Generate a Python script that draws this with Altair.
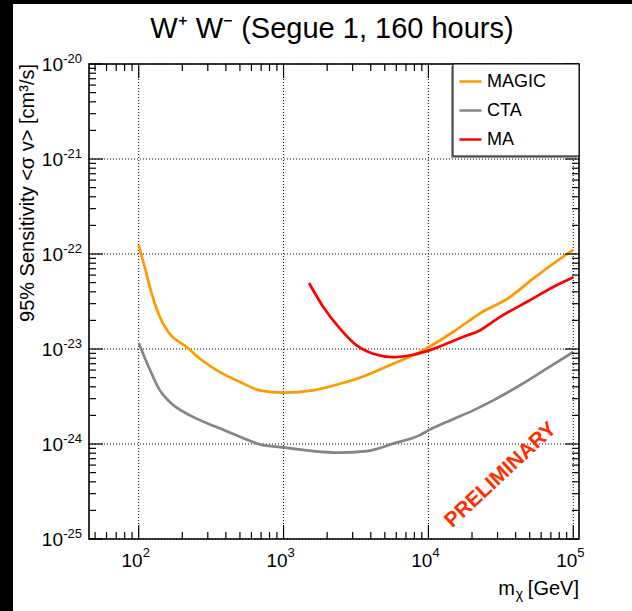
import altair as alt
import pandas as pd

# ---------------- data ----------------
magic_x = [100, 110, 123, 140, 160, 214, 265, 364, 500, 687, 995, 1600, 2450,
           3740, 5710, 8730, 14800, 22600, 36500, 52800, 72600, 100000]
magic_y = [1.24e-22, 7.3e-23, 3.83e-23, 2.17e-23, 1.51e-23, 1.05e-23, 7.9e-24,
           5.7e-24, 4.5e-24, 3.67e-24, 3.48e-24, 3.67e-24, 4.3e-24, 5.3e-24,
           7.0e-24, 9.3e-24, 1.51e-23, 2.36e-23, 3.52e-23, 5.5e-23, 7.9e-23, 1.11e-22]

cta_x = [100, 120, 140, 164, 226, 345, 500, 687, 995, 1600, 2450, 3740, 5710,
         8730, 10000, 14100, 20400, 28000, 42900, 65500, 100000]
cta_y = [1.16e-23, 5.97e-24, 3.67e-24, 2.77e-24, 2.0e-24, 1.51e-24, 1.19e-24,
         9.9e-25, 9.2e-25, 8.4e-25, 8.1e-25, 8.4e-25, 1.01e-24, 1.24e-24,
         1.39e-24, 1.77e-24, 2.26e-24, 2.88e-24, 4.15e-24, 6.2e-24, 9.3e-24]

ma_x = [1500, 1880, 2450, 3200, 4160, 5710, 7850, 9730, 13400, 18400, 21500,
        31100, 50100, 72600, 100000]
ma_y = [4.95e-23, 2.77e-23, 1.64e-23, 1.09e-23, 8.9e-24, 8.2e-24, 8.7e-24,
        9.5e-24, 1.14e-23, 1.39e-23, 1.51e-23, 2.17e-23, 3.26e-23, 4.5e-23, 5.7e-23]

series_names = ["MAGIC", "CTA", "MA"]
series_colors = ["#ff9900", "#858585", "#ff0000"]

x_major = [100, 1000, 10000, 100000]
x_major_exp = ["2", "3", "4", "5"]
x_minor = [50, 60, 70, 80, 90,
           200, 300, 400, 500, 600, 700, 800, 900,
           2000, 3000, 4000, 5000, 6000, 7000, 8000, 9000,
           20000, 30000, 40000, 50000, 60000, 70000, 80000, 90000]

y_major = [1e-25, 1e-24, 1e-23, 1e-22, 1e-21, 1e-20]
y_major_exp = ["-25", "-24", "-23", "-22", "-21", "-20"]
y_minor = [k * 10.0 ** e for e in [-25, -24, -23, -22, -21] for k in range(2, 10)]

title_text = "W\u207a W\u207b (Segue 1, 160 hours)"
y_title_text = "95% Sensitivity <\u03c3 v> [cm\u00b3/s]"
prelim_text = ["PRELIMINARY"]
prelim_x = [31600]
prelim_y = [4.7e-25]

# ---------------- layout ----------------
W, H = 490, 475
FONT = "Liberation Sans"
xs = alt.Scale(type="log", domain=[45.4, 109500], nice=False)
ys = alt.Scale(type="log", domain=[1e-25, 1e-20], nice=False)

rows = []
for name, xx, yy in [("MAGIC", magic_x, magic_y), ("CTA", cta_x, cta_y), ("MA", ma_x, ma_y)]:
    for a, b in zip(xx, yy):
        rows.append({"x": a, "y": b, "series": name})
lines_df = pd.DataFrame(rows)

one = pd.DataFrame({"a": [0]})


def box(x1, x2, y1, y2, **kw):
    return alt.Chart(one).mark_rect(**kw).encode(
        x=alt.value(x1), x2=alt.value(x2), y=alt.value(y1), y2=alt.value(y2))


layers = []
# black strips of the screenshot (left and top)
layers.append(box(-89, -76, -64, 547, color="black"))
layers.append(box(-89, 543, -64, -60, color="black"))

# grid
layers.append(alt.Chart(pd.DataFrame({"v": x_major})).mark_rule(
    color="black", strokeDash=[1, 2], strokeWidth=1).encode(
    x=alt.X("v:Q", scale=xs, axis=None)))
layers.append(alt.Chart(pd.DataFrame({"v": y_major})).mark_rule(
    color="black", strokeDash=[1, 2], strokeWidth=1).encode(
    y=alt.Y("v:Q", scale=ys, axis=None)))

# curves
layers.append(alt.Chart(lines_df).mark_line(strokeWidth=2.7, interpolate="monotone").encode(
    x=alt.X("x:Q", scale=xs, axis=None),
    y=alt.Y("y:Q", scale=ys, axis=None),
    color=alt.Color("series:N", scale=alt.Scale(domain=series_names, range=series_colors),
                    legend=alt.Legend(title=None, orient="none", legendX=369, legendY=5,
                                      symbolType="stroke", symbolSize=484,
                                      symbolStrokeWidth=2.5, labelFontSize=18,
                                      labelFont=FONT, labelColor="black",
                                      labelOffset=4, rowPadding=7, padding=0)),
))

# inward ticks on all four sides
for vals, L in [(x_major, 14), (x_minor, 7)]:
    d = pd.DataFrame({"v": vals})
    layers.append(alt.Chart(d).mark_rule(color="black", strokeWidth=1.2).encode(
        x=alt.X("v:Q", scale=xs, axis=None), y=alt.value(H), y2=alt.value(H - L)))
    layers.append(alt.Chart(d).mark_rule(color="black", strokeWidth=1.2).encode(
        x=alt.X("v:Q", scale=xs, axis=None), y=alt.value(0), y2=alt.value(L)))
for vals, L in [(y_major, 14), (y_minor, 7)]:
    d = pd.DataFrame({"v": vals})
    layers.append(alt.Chart(d).mark_rule(color="black", strokeWidth=1.2).encode(
        y=alt.Y("v:Q", scale=ys, axis=None), x=alt.value(0), x2=alt.value(L)))
    layers.append(alt.Chart(d).mark_rule(color="black", strokeWidth=1.2).encode(
        y=alt.Y("v:Q", scale=ys, axis=None), x=alt.value(W), x2=alt.value(W - L)))

# legend box (shadow + frame)
layers.append(box(362, 488, 2, 94, color="#9a9a9a"))
layers.append(box(364, 490, 0, 92, fill="white", stroke="black", strokeWidth=1))

# PRELIMINARY stamp
layers.append(alt.Chart(pd.DataFrame({"x": prelim_x, "y": prelim_y, "t": prelim_text})).mark_text(
    angle=317, fontSize=21, fontWeight="bold", color="#ff2d00", font=FONT,
    align="center", baseline="middle").encode(
    x=alt.X("x:Q", scale=xs, axis=None), y=alt.Y("y:Q", scale=ys, axis=None), text="t:N"))

# tick labels
xl = pd.DataFrame({"v": x_major, "b": ["10"] * len(x_major), "e": x_major_exp})
layers.append(alt.Chart(xl).mark_text(align="right", dx=4, fontSize=19, font=FONT,
                                      baseline="alphabetic", color="black").encode(
    x=alt.X("v:Q", scale=xs, axis=None), y=alt.value(503), text="b:N"))
layers.append(alt.Chart(xl).mark_text(align="left", dx=4, fontSize=13, font=FONT,
                                      baseline="alphabetic", color="black").encode(
    x=alt.X("v:Q", scale=xs, axis=None), y=alt.value(493), text="e:N"))
yl = pd.DataFrame({"v": y_major, "b": ["10"] * len(y_major), "e": y_major_exp})
layers.append(alt.Chart(yl).mark_text(align="right", dy=7, fontSize=19, font=FONT,
                                      baseline="alphabetic", color="black").encode(
    y=alt.Y("v:Q", scale=ys, axis=None), x=alt.value(-26), text="b:N"))
layers.append(alt.Chart(yl).mark_text(align="right", dy=-1, fontSize=13, font=FONT,
                                      baseline="alphabetic", color="black").encode(
    y=alt.Y("v:Q", scale=ys, axis=None), x=alt.value(-7), text="e:N"))

# titles
layers.append(alt.Chart(one).mark_text(align="center", baseline="alphabetic", fontSize=29,
                                       font=FONT, color="black", text=title_text).encode(
    x=alt.value(W / 2 - 2), y=alt.value(-26)))
layers.append(alt.Chart(one).mark_text(align="right", baseline="middle", fontSize=20, angle=270,
                                       font=FONT, color="black", text=y_title_text).encode(
    x=alt.value(-61), y=alt.value(0)))
layers.append(alt.Chart(one).mark_text(align="right", baseline="alphabetic", fontSize=20,
                                       font=FONT, color="black", text=" [GeV]").encode(
    x=alt.value(W), y=alt.value(531)))
layers.append(alt.Chart(one).mark_text(align="right", baseline="alphabetic", fontSize=14,
                                       font=FONT, color="black", text="\u03c7").encode(
    x=alt.value(W - 56), y=alt.value(535)))
layers.append(alt.Chart(one).mark_text(align="right", baseline="alphabetic", fontSize=20,
                                       font=FONT, color="black", text="m").encode(
    x=alt.value(W - 64), y=alt.value(531)))

chart = alt.layer(*layers).properties(
    width=W, height=H,
    autosize=alt.AutoSizeParams(type="none"),
    padding={"left": 89, "top": 64, "right": 53, "bottom": 72},
    background="white",
).configure_view(stroke="black", strokeWidth=1.6)

chart.save("out.html", embed_options={"renderer": "svg", "actions": False})
